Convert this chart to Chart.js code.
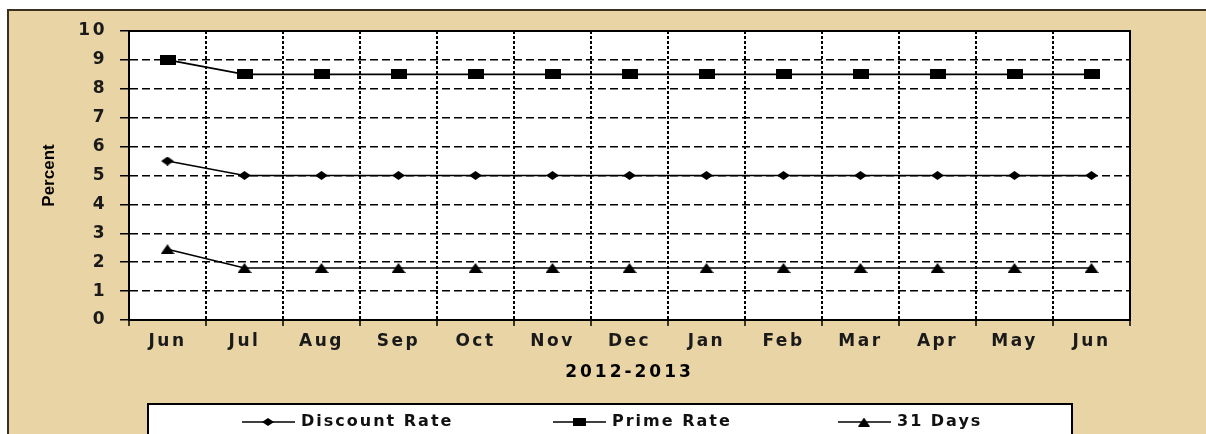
<!DOCTYPE html>
<html>
<head>
<meta charset="utf-8">
<script src="https://cdn.jsdelivr.net/npm/chart.js@4"></script>
<style>
  html, body { margin: 0; padding: 0; background: #fff; }
  #wrap { position: absolute; left: 0; top: 0; width: 1206px; height: 434px; overflow: hidden; }
  #paper { position: absolute; left: 7px; top: 9px; width: 1199px; height: 425px;
           background: #e8d4a4; border-top: 2px solid #3b2f22; border-left: 2px solid #3b2f22; }
  canvas { position: absolute; left: 0; top: 0; }
</style>
</head>
<body>
<div id="wrap">
  <div id="paper"></div>
  <canvas id="chart" width="1206" height="434"></canvas>
</div>
<script>
// --- data ---
const months = ['Jun', 'Jul', 'Aug', 'Sep', 'Oct', 'Nov', 'Dec', 'Jan', 'Feb', 'Mar', 'Apr', 'May', 'Jun'];
const discountRate = [5.5, 5, 5, 5, 5, 5, 5, 5, 5, 5, 5, 5, 5];
const primeRate = [9, 8.5, 8.5, 8.5, 8.5, 8.5, 8.5, 8.5, 8.5, 8.5, 8.5, 8.5, 8.5];
const days31 = [2.45, 1.8, 1.8, 1.8, 1.8, 1.8, 1.8, 1.8, 1.8, 1.8, 1.8, 1.8, 1.8];
const seriesNames = ['Discount Rate', 'Prime Rate', '31 Days'];
const yTicks = [0, 1, 2, 3, 4, 5, 6, 7, 8, 9, 10];

const TICK_SPACING = '2.5px';

// small canvases used as point markers (the originals are wide, not square)
function marker(shape, w, h) {
  const c = document.createElement('canvas');
  c.width = w; c.height = h;
  const g = c.getContext('2d');
  g.fillStyle = '#000';
  g.beginPath();
  if (shape === 'diamond') {
    g.moveTo(w / 2, 0); g.lineTo(w, h / 2); g.lineTo(w / 2, h); g.lineTo(0, h / 2);
  } else if (shape === 'rect') {
    g.rect(0, 0, w, h);
  } else {
    g.moveTo(w / 2, 0); g.lineTo(w, h); g.lineTo(0, h);
  }
  g.closePath();
  g.fill();
  return c;
}
const markers = [marker('diamond', 13, 9), marker('rect', 16, 10), marker('tri', 14, 10)];
const legendMarkers = [marker('diamond', 12, 8), marker('rect', 13, 8), marker('tri', 12, 9)];

// the original text is wide and airy: letter spacing on ticks, own spacing on titles
const spacing = {
  id: 'spacing',
  beforeUpdate(chart) { chart.ctx.letterSpacing = TICK_SPACING; },
  afterLayout(chart) {
    [['x', '3px'], ['y', '0px']].forEach(([id, sp]) => {
      const s = chart.scales[id];
      if (s._spaced) return;
      const orig = s.drawTitle.bind(s);
      s.drawTitle = (...a) => {
        s.ctx.letterSpacing = sp;
        orig(...a);
        s.ctx.letterSpacing = TICK_SPACING;
      };
      s._spaced = true;
    });
  },
  beforeDraw(chart) { chart.ctx.letterSpacing = TICK_SPACING; }
};

const plotBg = {
  id: 'plotBg',
  beforeDraw(chart) {
    const { ctx, chartArea: a } = chart;
    ctx.save();
    ctx.fillStyle = '#fff';
    ctx.fillRect(a.left, a.top, a.right - a.left, a.bottom - a.top);
    ctx.restore();
  },
  afterDatasetsDraw(chart) {
    const { ctx, chartArea: a } = chart;
    ctx.save();
    ctx.strokeStyle = '#000';
    ctx.lineWidth = 2;
    ctx.strokeRect(a.left, a.top, a.right - a.left, a.bottom - a.top);
    ctx.restore();
  }
};

const legendBox = {
  id: 'legendBox',
  afterDraw(chart, args, opts) {
    const ctx = chart.ctx;
    ctx.save();
    ctx.fillStyle = '#fff';
    ctx.fillRect(opts.left, opts.top, opts.right - opts.left, chart.height - opts.top + 10);
    ctx.strokeStyle = '#000';
    ctx.lineWidth = 2;
    ctx.strokeRect(opts.left, opts.top, opts.right - opts.left, chart.height - opts.top + 10);
    ctx.letterSpacing = '2px';
    ctx.font = 'bold 16px "DejaVu Sans"';
    ctx.textBaseline = 'middle';
    ctx.fillStyle = '#111';
    ctx.lineWidth = 1.5;
    chart.data.datasets.forEach((ds, i) => {
      const x = opts.left + opts.starts[i];
      const y = opts.top + 18;
      ctx.beginPath();
      ctx.moveTo(x, y); ctx.lineTo(x + 53, y);
      ctx.stroke();
      const m = legendMarkers[i];
      ctx.drawImage(m, x + 26 - m.width / 2, y - m.height / 2);
      ctx.fillText(ds.label, x + 59, y);
    });
    ctx.restore();
  }
};

const makeSet = (label, data, i) => ({
  label, data,
  borderColor: '#000', backgroundColor: '#000', borderWidth: 1.6,
  pointStyle: markers[i], pointRadius: 6, tension: 0, fill: false
});

new Chart(document.getElementById('chart'), {
  type: 'line',
  data: {
    labels: months,
    datasets: [
      makeSet(seriesNames[0], discountRate, 0),
      makeSet(seriesNames[1], primeRate, 1),
      makeSet(seriesNames[2], days31, 2)
    ]
  },
  plugins: [spacing, plotBg, legendBox],
  options: {
    responsive: false, animation: false, devicePixelRatio: 1,
    layout: { padding: { left: 0, top: 31, right: 76, bottom: 34 } },
    plugins: {
      legend: { display: false },
      tooltip: { enabled: false },
      legendBox: { left: 148, right: 1072, top: 404, starts: [94, 405, 690] }
    },
    scales: {
      x: {
        offset: true,
        afterFit: s => { s.height = 80; },
        grid: { color: '#000', lineWidth: 2, offset: true, tickLength: 6, tickColor: '#000', tickWidth: 1.5 },
        border: { display: true, color: '#000', width: 2, dash: [3, 2] },
        ticks: { color: '#1a1a1a', padding: 5, font: { family: 'DejaVu Sans', size: 17, weight: 'bold' }, maxRotation: 0 },
        title: { display: true, text: '2012-2013', color: '#000',
                 font: { family: 'DejaVu Sans', size: 17, weight: 'bold' }, padding: { top: 0, bottom: 17 } }
      },
      y: {
        min: 0, max: 10,
        afterFit: s => { s.width = 129; },
        afterBuildTicks: s => { s.ticks = yTicks.map(v => ({ value: v })); },
        grid: { color: '#000', lineWidth: 1.5, tickLength: 9, tickColor: '#000', tickWidth: 1.5 },
        border: { display: true, color: '#000', width: 2, dash: [8, 4] },
        ticks: { color: '#1a1a1a', padding: 13, font: { family: 'DejaVu Sans', size: 17, weight: 'bold' } },
        title: { display: true, text: 'Percent', color: '#000',
                 font: { family: 'Liberation Sans', size: 17, weight: 'bold' }, padding: { top: 39, bottom: 0 } }
      }
    }
  }
});
</script>
</body>
</html>
